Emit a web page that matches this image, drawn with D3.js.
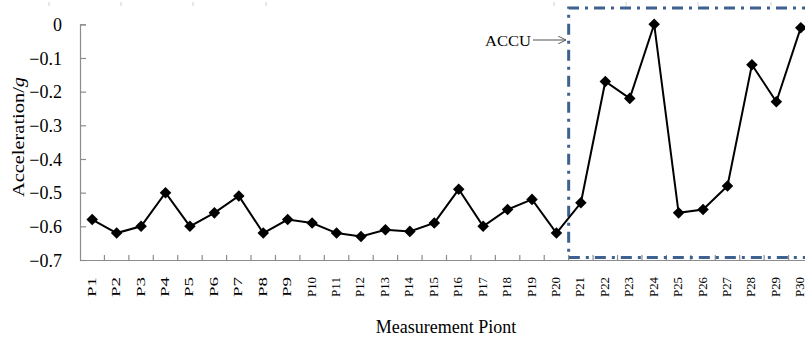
<!DOCTYPE html>
<html>
<head>
<meta charset="utf-8">
<script src="https://cdn.jsdelivr.net/npm/d3@7"></script>
<style>
  html, body { margin: 0; padding: 0; background: #fff; }
  svg { display: block; font-family: "Liberation Serif", "Times New Roman", serif; }
</style>
</head>
<body>
<svg id="chart" width="805" height="338"></svg>
<script>
// Measurement points and recorded acceleration (g)
const points = d3.range(1, 31).map(i => "P" + i);
const acceleration = [
  -0.58, -0.62, -0.60, -0.50, -0.60, -0.56, -0.51, -0.62, -0.58, -0.59,
  -0.62, -0.63, -0.61, -0.615, -0.59, -0.49, -0.60, -0.55, -0.52, -0.62,
  -0.53, -0.17, -0.22, 0.00, -0.56, -0.55, -0.48, -0.12, -0.23, -0.01
];
const yTicks = [0, -0.1, -0.2, -0.3, -0.4, -0.5, -0.6, -0.7];
const yDomain = [-0.7, 0];
// Points covered by the ACCU region
const accuFirst = "P21";
const accuLast = "P30";

const svg = d3.select("#chart");
const plot = { left: 80, right: 813, top: 24.3, bottom: 260 };

const x = d3.scaleBand().domain(points).range([plot.left, plot.right]).paddingInner(0).paddingOuter(0);
const y = d3.scaleLinear().domain(yDomain).range([plot.bottom, plot.top]);
const axisColor = "#8c8c8c";
const serif = "'Liberation Serif', 'Times New Roman', serif";

// faint marks along the top edge
const topMarks = [49, 121, 193, 266, 554, 626, 698, 771];
svg.append("g").selectAll("line").data(topMarks).join("line")
  .attr("x1", d => d).attr("x2", d => d).attr("y1", 2).attr("y2", 6)
  .attr("stroke", "#d0d0d0").attr("stroke-width", 1);

// Y axis
const yAxis = svg.append("g")
  .attr("transform", `translate(${plot.left},0)`)
  .call(d3.axisRight(y).tickValues(yTicks).tickSize(6).tickFormat(d => d === 0 ? "0" : d3.format(".1f")(d)))
  .attr("font-family", serif).attr("font-size", 18);
yAxis.select(".domain").attr("stroke", axisColor).attr("stroke-width", 1.2);
yAxis.selectAll(".tick line").attr("stroke", axisColor).attr("stroke-width", 1.2);
yAxis.selectAll(".tick text")
  .attr("x", -18).attr("text-anchor", "end").attr("dy", "0.35em")
  .attr("fill", "#000");

// X axis
const xAxis = svg.append("g")
  .attr("transform", `translate(0,${plot.bottom})`)
  .call(d3.axisTop(x).tickSize(0).tickFormat(""));
xAxis.select(".domain").attr("stroke", axisColor).attr("stroke-width", 1.2);
xAxis.selectAll(".tick").remove();
// category boundary ticks
svg.append("g").selectAll("line").data(points.slice(1)).join("line")
  .attr("x1", d => x(d)).attr("x2", d => x(d))
  .attr("y1", plot.bottom).attr("y2", plot.bottom - 5)
  .attr("stroke", axisColor).attr("stroke-width", 1.2);

// rotated category labels
svg.append("g").attr("font-family", serif).selectAll("text").data(points).join("text")
  .attr("transform", d => `translate(${x(d) + x.bandwidth() / 2 + 3.5},${plot.bottom + 17}) rotate(-90)`)
  .attr("text-anchor", "end")
  .attr("font-size", 13.5).attr("fill", "#000")
  .attr("textLength", 20).attr("lengthAdjust", "spacingAndGlyphs")
  .text(d => d);

// ACCU dash-dot box
const boxLeft = x(accuFirst);
const boxRight = x(accuLast) + x.bandwidth();
svg.append("path")
  .attr("d", `M${boxRight},8 L${boxLeft},8 L${boxLeft},${plot.bottom - 2.5} L${boxRight},${plot.bottom - 2.5}`)
  .attr("fill", "none").attr("stroke", "#3f6190").attr("stroke-width", 3)
  .attr("stroke-dasharray", "11,6,3,6");

// series line and diamond markers
const data = points.map((p, i) => ({ p, v: acceleration[i] }));
const cx = d => x(d.p) + x.bandwidth() / 2;
svg.append("path")
  .datum(data)
  .attr("d", d3.line().x(cx).y(d => y(d.v)))
  .attr("fill", "none").attr("stroke", "#000").attr("stroke-width", 2);
svg.append("g").selectAll("path").data(data).join("path")
  .attr("transform", d => `translate(${cx(d)},${y(d.v)})`)
  .attr("d", d3.symbol(d3.symbolDiamond2, 85))
  .attr("fill", "#000");

// ACCU annotation
svg.append("text").attr("x", 485).attr("y", 46).attr("font-family", serif)
  .attr("font-size", 15).attr("fill", "#000")
  .attr("textLength", 46).attr("lengthAdjust", "spacingAndGlyphs")
  .text("ACCU");
svg.append("defs").append("marker")
  .attr("id", "arrowhead").attr("viewBox", "0 0 10 10").attr("refX", 10).attr("refY", 5)
  .attr("markerWidth", 8).attr("markerHeight", 8).attr("orient", "auto")
  .attr("markerUnits", "userSpaceOnUse")
  .append("path").attr("d", "M0,0 L10,5 L0,10").attr("fill", "none").attr("stroke", "#555").attr("stroke-width", 1.2);
svg.append("line").attr("x1", 533).attr("y1", 40).attr("x2", 566).attr("y2", 40)
  .attr("stroke", "#555").attr("stroke-width", 1.2).attr("marker-end", "url(#arrowhead)");

// axis titles
svg.append("text").attr("x", 446).attr("y", 333).attr("font-family", serif)
  .attr("text-anchor", "middle").attr("font-size", 18).attr("fill", "#000")
  .text("Measurement Piont");
const yTitle = svg.append("text").attr("font-family", serif)
  .attr("transform", "translate(23.5,137) rotate(-90)")
  .attr("text-anchor", "middle").attr("font-size", 16).attr("fill", "#000")
  .attr("textLength", 120).attr("lengthAdjust", "spacingAndGlyphs");
yTitle.append("tspan").text("Acceleration/");
yTitle.append("tspan").attr("font-style", "italic").text("g");
</script>
</body>
</html>
